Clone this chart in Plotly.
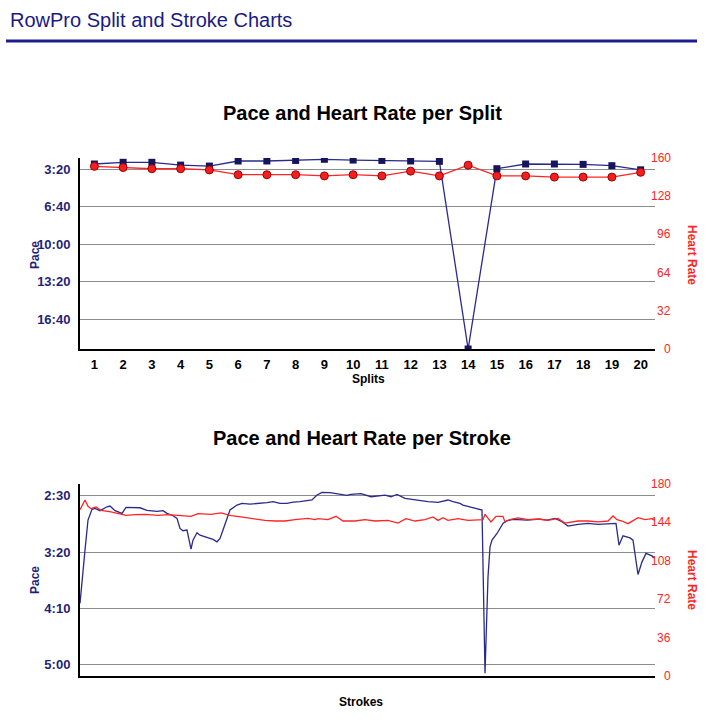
import plotly.graph_objects as go

W, H = 719, 725

# ---------------- data ----------------
splits = list(range(1, 21))
split_pace = [173, 164, 164, 179, 184, 157, 157, 154, 148, 152,
              154, 157, 159, 1160, 198, 173, 173, 175, 182, 204]   # seconds per 500m
split_hr = [153, 152, 151, 151, 150, 146, 146, 146, 145, 146,
            145, 149, 145, 154, 145, 145, 144, 144, 144, 148]

pace_ticks_top = [200, 400, 600, 800, 1000]
pace_ticktext_top = ["3:20", "6:40", "10:00", "13:20", "16:40"]
hr_ticks_top = [0, 32, 64, 96, 128, 160]

stroke_pace_x = [0, 2, 5, 8, 12, 15, 20, 27, 30, 35, 42, 46, 53, 60, 67, 77, 83, 87, 93, 97,
                 100, 103, 107, 109, 111, 113, 117, 120, 127, 133, 137, 140, 143, 147, 150, 157,
                 162, 170, 180, 187, 193, 200, 207, 213, 220, 227, 232, 237, 242, 250, 257, 267,
                 271, 281, 291, 305, 311, 317, 325, 335, 348, 358, 368, 373, 380, 383, 391, 398,
                 402, 405, 408, 410, 412, 417, 420, 423, 427, 433, 447, 460, 467, 475, 482, 488,
                 498, 508, 518, 528, 536, 539, 543, 550, 553, 558, 562, 566, 572, 575]
stroke_pace = [245.7, 225.0, 198.3, 171.6, 162.1, 161.2, 163.3, 159.8, 159.2, 163.3, 165.7, 160.3,
               160.7, 160.7, 163.0, 163.9, 163.3, 165.7, 167.8, 170.1, 179.0, 181.1, 180.5, 187.9,
               197.4, 189.4, 182.9, 185.0, 187.4, 188.8, 190.9, 187.9, 180.5, 170.1, 162.7, 158.3,
               156.8, 157.4, 156.8, 156.2, 155.3, 156.8, 156.8, 155.6, 155.3, 154.4, 153.8, 149.4,
               147.0, 147.3, 148.5, 149.6, 148.8, 148.2, 150.9, 149.4, 150.9, 148.8, 152.3, 153.8,
               155.3, 155.9, 153.8, 155.3, 156.8, 158.3, 160.1, 161.8, 162.7, 307.5, 222.1, 195.4,
               189.4, 183.5, 179.0, 174.6, 172.2, 171.0, 171.6, 170.7, 171.6, 170.1, 173.1, 177.0,
               175.4, 174.6, 175.4, 174.6, 174.6, 193.9, 185.6, 187.4, 189.4, 219.9, 208.7, 201.2,
               203.4, 205.7]

stroke_hr_x = [0, 5, 8, 11, 16, 21, 31, 41, 46, 55, 65, 78, 88, 98, 111, 118, 123, 131, 141, 151,
               161, 171, 185, 195, 205, 215, 228, 235, 238, 248, 256, 263, 275, 285, 295, 308,
               318, 326, 335, 345, 353, 358, 363, 368, 378, 388, 398, 403, 405, 408, 411, 416,
               423, 425, 430, 438, 448, 458, 468, 478, 485, 498, 508, 518, 528, 533, 537, 542,
               548, 558, 565, 572, 575]
stroke_hr = [156.0, 165.0, 159.1, 156.9, 158.5, 155.3, 153.8, 151.3, 150.6, 151.3, 151.6, 150.6,
             151.3, 150.6, 149.7, 152.2, 152.2, 151.6, 152.9, 150.3, 149.1, 147.5, 145.9, 145.3,
             145.3, 146.6, 147.8, 146.6, 147.5, 146.6, 149.7, 145.3, 145.3, 146.6, 145.3, 145.9,
             143.4, 147.5, 145.3, 146.6, 149.1, 145.9, 148.4, 145.9, 147.5, 145.9, 146.6, 146.6,
             151.6, 148.4, 144.4, 149.7, 149.7, 144.4, 146.6, 148.2, 146.6, 147.2, 145.9, 147.8,
             143.4, 145.3, 145.3, 144.4, 145.3, 150.0, 146.6, 145.3, 142.8, 148.4, 146.6, 147.5,
             145.9]

pace_ticks_bot = [150, 200, 250, 300]
pace_ticktext_bot = ["2:30", "3:20", "4:10", "5:00"]
hr_ticks_bot = [0, 36, 72, 108, 144, 180]

# ---------------- styling ----------------
NAVY = "#1f1f78"
LINE_BLUE = "#2a2a8c"
RED = "#ff2424"
GRID = "#8c8c8c"
FONT = "Liberation Sans, Arial, Helvetica, sans-serif"


def px(x):
    return x / W


def py(y):
    return 1 - y / H


X0, X1 = px(80), px(655)

fig = go.Figure()

fig.add_trace(go.Scatter(
    x=splits, y=split_pace, xaxis="x", yaxis="y", mode="lines+markers",
    line=dict(color=LINE_BLUE, width=1.3),
    marker=dict(symbol="square", size=7, color="#15155e", line=dict(width=0)),
    hoverinfo="skip"))
fig.add_trace(go.Scatter(
    x=splits, y=split_hr, xaxis="x", yaxis="y2", mode="lines+markers",
    line=dict(color=RED, width=1.3),
    marker=dict(symbol="circle", size=8, color="#f02020", line=dict(width=1, color="#a00000")),
    hoverinfo="skip"))
fig.add_trace(go.Scatter(
    x=stroke_pace_x, y=stroke_pace, xaxis="x2", yaxis="y3", mode="lines",
    line=dict(color=LINE_BLUE, width=1.3), hoverinfo="skip"))
fig.add_trace(go.Scatter(
    x=stroke_hr_x, y=stroke_hr, xaxis="x2", yaxis="y4", mode="lines",
    line=dict(color=RED, width=1.3), hoverinfo="skip"))

ax_common = dict(showgrid=False, zeroline=False, fixedrange=True)

fig.update_layout(
    width=W, height=H,
    margin=dict(l=0, r=0, t=0, b=0),
    paper_bgcolor="white", plot_bgcolor="white",
    showlegend=False,
    font=dict(family=FONT),
    xaxis=dict(domain=[X0, X1], range=[0.5, 20.5], tickvals=splits,
               ticktext=[str(s) for s in splits], anchor="y",
               showline=True, linecolor="black", linewidth=2,
               ticks="outside", ticklen=2, tickcolor="white",
               tickfont=dict(size=13, color="black", weight="bold"), **ax_common),
    yaxis=dict(domain=[py(349), py(158)], range=[1160, 141], anchor="x",
               tickvals=pace_ticks_top, ticktext=pace_ticktext_top,
               showline=True, linecolor="black", linewidth=2,
               ticks="outside", ticklen=5, tickcolor="white",
               tickfont=dict(size=13, color=NAVY, weight="bold"),
               showgrid=True, gridcolor=GRID, gridwidth=1, zeroline=False, fixedrange=True),
    yaxis2=dict(overlaying="y", side="right", anchor="x", range=[0, 160],
                tickvals=hr_ticks_top, showticklabels=False, showline=False, **ax_common),
    xaxis2=dict(domain=[X0, X1], range=[0, 575], anchor="y3",
                showline=True, linecolor="black", linewidth=2,
                showticklabels=False, ticks="", **ax_common),
    yaxis3=dict(domain=[py(676), py(484)], range=[310, 139.6], anchor="x2",
                tickvals=pace_ticks_bot, ticktext=pace_ticktext_bot,
                showline=True, linecolor="black", linewidth=2,
                ticks="outside", ticklen=5, tickcolor="white",
                tickfont=dict(size=13, color=NAVY, weight="bold"),
                showgrid=True, gridcolor=GRID, gridwidth=1, zeroline=False, fixedrange=True),
    yaxis4=dict(overlaying="y3", side="right", anchor="x2", range=[0, 180],
                tickvals=hr_ticks_bot, showticklabels=False, showline=False, **ax_common),
)

ann = []
# page header
ann.append(dict(text="RowPro Split and Stroke Charts", x=px(8), y=py(20), xref="paper", yref="paper",
                xanchor="left", yanchor="middle", showarrow=False,
                font=dict(size=20, color="#1a1a82", family=FONT)))
# chart titles
ann.append(dict(text="Pace and Heart Rate per Split", x=px(362), y=py(113), xref="paper", yref="paper",
                xanchor="center", yanchor="middle", showarrow=False,
                font=dict(size=20, color="black", family=FONT, weight="bold")))
ann.append(dict(text="Pace and Heart Rate per Stroke", x=px(362), y=py(438), xref="paper", yref="paper",
                xanchor="center", yanchor="middle", showarrow=False,
                font=dict(size=20, color="black", family=FONT, weight="bold")))
# axis titles
for yc in (255, 580):
    ann.append(dict(text="Pace", x=px(35), y=py(yc), xref="paper", yref="paper", textangle=-90,
                    xanchor="center", yanchor="middle", showarrow=False,
                    font=dict(size=12, color=NAVY, weight="bold")))
    ann.append(dict(text="Heart Rate", x=px(692), y=py(yc), xref="paper", yref="paper", textangle=90,
                    xanchor="center", yanchor="middle", showarrow=False,
                    font=dict(size=12, color=RED, weight="bold")))
ann.append(dict(text="Splits", x=px(368), y=py(379), xref="paper", yref="paper",
                xanchor="center", yanchor="middle", showarrow=False,
                font=dict(size=12, color="black", weight="bold")))
ann.append(dict(text="Strokes", x=px(361), y=py(702), xref="paper", yref="paper",
                xanchor="center", yanchor="middle", showarrow=False,
                font=dict(size=12, color="black", weight="bold")))
# right-hand heart-rate tick labels (right aligned)
for v in hr_ticks_top:
    ann.append(dict(text=str(v), x=px(673), y=v, xref="paper", yref="y2",
                    xanchor="right", yanchor="middle", showarrow=False,
                    font=dict(size=12, color=RED)))
for v in hr_ticks_bot:
    ann.append(dict(text=str(v), x=px(673), y=v, xref="paper", yref="y4",
                    xanchor="right", yanchor="middle", showarrow=False,
                    font=dict(size=12, color=RED)))

fig.update_layout(annotations=ann)

fig.add_shape(type="line", xref="paper", yref="paper", x0=px(6), x1=px(697), y0=py(41), y1=py(41),
              line=dict(color="#1c1c8c", width=3))

fig.write_html("out.html")
